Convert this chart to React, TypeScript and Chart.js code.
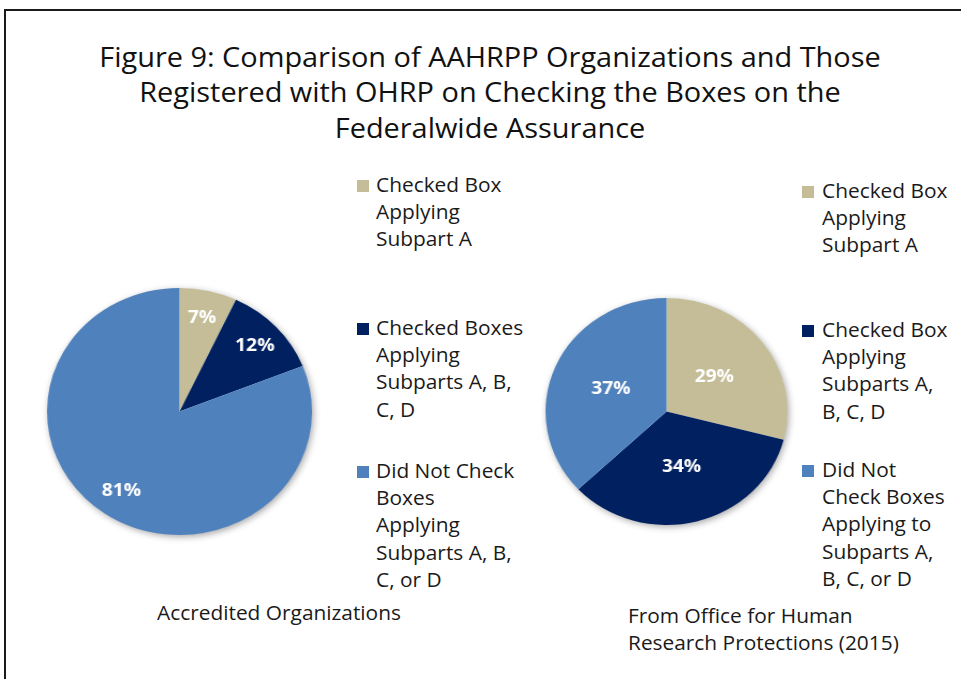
import React, { useEffect, useRef } from "react";
import { Chart, registerables } from "chart.js";

Chart.register(...registerables);

// ---------- DATA ----------
const titleLines = [
  "Figure 9: Comparison of AAHRPP Organizations and Those",
  "Registered with OHRP on Checking the Boxes on the",
  "Federalwide Assurance",
];

const categoriesLeft = [
  "Checked Box Applying Subpart A",
  "Checked Boxes Applying Subparts A, B, C, D",
  "Did Not Check Boxes Applying Subparts A, B, C, or D",
];
const legendLinesLeft = [
  ["Checked Box", "Applying", "Subpart A"],
  ["Checked Boxes", "Applying", "Subparts A, B,", "C, D"],
  ["Did Not Check", "Boxes", "Applying", "Subparts A, B,", "C, or D"],
];
const valuesLeft = [7, 12, 81];
const captionLeft = ["Accredited Organizations"];

const categoriesRight = [
  "Checked Box Applying Subpart A",
  "Checked Box Applying Subparts A, B, C, D",
  "Did Not Check Boxes Applying to Subparts A, B, C, or D",
];
const legendLinesRight = [
  ["Checked Box", "Applying", "Subpart A"],
  ["Checked Box", "Applying", "Subparts A,", "B, C, D"],
  ["Did Not", "Check Boxes", "Applying to", "Subparts A,", "B, C, or D"],
];
const valuesRight = [29, 34, 37];
const captionRight = ["From Office for Human", "Research Protections (2015)"];

const sliceColors = ["#C4BD97", "#002060", "#4F81BD"];

// ---------- STYLE ----------
const FONT = "'Open Sans', 'Noto Sans', sans-serif";
const TEXT = "#1a1a1a";
const STRETCH = 1.07;
const BODY_SIZE = 19.5;
const BODY_LH = 27.3;
const BODY_BASE = 21.2;

const shadowPlugin = {
  id: "pieShadow",
  beforeDatasetsDraw(chart: any) {
    const arc = chart.getDatasetMeta(0).data[0];
    if (!arc) return;
    const p = arc.getProps(["x", "y", "outerRadius"], true);
    const ctx = chart.ctx;
    ctx.save();
    ctx.shadowColor = "rgba(0,0,0,0.38)";
    ctx.shadowBlur = 7;
    ctx.shadowOffsetX = 1.5;
    ctx.shadowOffsetY = 2;
    ctx.beginPath();
    ctx.arc(p.x, p.y, p.outerRadius - 0.5, 0, Math.PI * 2);
    ctx.fillStyle = "#ffffff";
    ctx.fill();
    ctx.restore();
  },
};

const pctLabelPlugin = {
  id: "pctLabels",
  afterDatasetsDraw(chart: any, _args: any, opts: any) {
    const meta = chart.getDatasetMeta(0);
    const data = chart.data.datasets[0].data;
    const ctx = chart.ctx;
    ctx.save();
    ctx.fillStyle = "#ffffff";
    ctx.font = `bold 18px ${FONT}`;
    ctx.textAlign = "center";
    ctx.textBaseline = "middle";
    meta.data.forEach((arc: any, i: number) => {
      const p = arc.getProps(["x", "y", "startAngle", "endAngle", "outerRadius"], true);
      const mid = (p.startAngle + p.endAngle) / 2;
      const r = p.outerRadius * (opts.radiusFraction ?? 0.5);
      ctx.fillText(`${data[i]}%`, p.x + Math.cos(mid) * r, p.y + Math.sin(mid) * r);
    });
    ctx.restore();
  },
};

function PieCanvas(props: {
  labels: string[];
  values: number[];
  size: number;
  left: number;
  top: number;
  stretch: number;
  labelRadius: number;
}) {
  const ref = useRef<HTMLCanvasElement | null>(null);
  useEffect(() => {
    if (!ref.current) return;
    const chart = new Chart(ref.current, {
      type: "pie",
      data: {
        labels: props.labels,
        datasets: [
          {
            data: props.values,
            backgroundColor: sliceColors,
            borderWidth: 0,
          },
        ],
      },
      options: {
        responsive: false,
        maintainAspectRatio: false,
        animation: false,
        layout: { padding: 10 },
        plugins: {
          legend: { display: false },
          tooltip: { enabled: false },
          pctLabels: { radiusFraction: props.labelRadius },
        } as any,
      },
      plugins: [shadowPlugin, pctLabelPlugin],
    });
    return () => chart.destroy();
  }, []);
  return (
    <div
      style={{
        position: "absolute",
        left: props.left,
        top: props.top,
        width: props.size,
        height: props.size,
        transform: `scaleX(${props.stretch})`,
        transformOrigin: "50% 50%",
      }}
    >
      <canvas ref={ref} width={props.size} height={props.size} />
    </div>
  );
}

function TextBlock(props: { lines: string[]; left: number; top: number; lh?: number }) {
  return (
    <div
      style={{
        position: "absolute",
        left: props.left,
        top: props.top,
        fontFamily: FONT,
        fontSize: BODY_SIZE,
        lineHeight: `${props.lh ?? BODY_LH}px`,
        color: TEXT,
        whiteSpace: "nowrap",
        transform: `scaleX(${STRETCH})`,
        transformOrigin: "0 0",
      }}
    >
      {props.lines.map((l, j) => (
        <div key={j}>{l}</div>
      ))}
    </div>
  );
}

function Legend(props: {
  lines: string[][];
  markerX: number;
  textX: number;
  baselines: number[];
}) {
  return (
    <>
      {props.lines.map((item, i) => (
        <React.Fragment key={i}>
          <div
            style={{
              position: "absolute",
              left: props.markerX,
              top: props.baselines[i] - 12.5,
              width: 12,
              height: 12,
              background: sliceColors[i],
            }}
          />
          <TextBlock lines={item} left={props.textX} top={props.baselines[i] - BODY_BASE} />
        </React.Fragment>
      ))}
    </>
  );
}

export default function App() {
  return (
    <div
      style={{
        position: "absolute",
        left: 0,
        top: 0,
        width: 961,
        height: 679,
        background: "#ffffff",
        overflow: "hidden",
      }}
    >
      {/* frame */}
      <div style={{ position: "absolute", left: 4, top: 9, width: 957, height: 2, background: "#1a1a1a" }} />
      <div style={{ position: "absolute", left: 4, top: 9, width: 2, height: 670, background: "#1a1a1a" }} />

      {/* title */}
      <div
        style={{
          position: "absolute",
          left: 90,
          width: 800,
          top: 38.8,
          textAlign: "center",
          fontFamily: FONT,
          fontSize: 27,
          lineHeight: "35.5px",
          color: "#111",
          whiteSpace: "nowrap",
          transform: `scaleX(${STRETCH})`,
          transformOrigin: "50% 0",
        }}
      >
        {titleLines.map((l, i) => (
          <div key={i}>{l}</div>
        ))}
      </div>

      <PieCanvas
        labels={categoriesLeft}
        values={valuesLeft}
        size={267}
        left={179 - 133.5}
        top={411.5 - 133.5}
        stretch={1.073}
        labelRadius={0.78}
      />
      <PieCanvas
        labels={categoriesRight}
        values={valuesRight}
        size={247}
        left={666 - 123.5}
        top={411.5 - 123.5}
        stretch={1.066}
        labelRadius={0.5}
      />

      <Legend lines={legendLinesLeft} markerX={357} textX={376} baselines={[192, 335, 478]} />
      <Legend lines={legendLinesRight} markerX={802} textX={822} baselines={[198, 337, 477]} />

      <TextBlock lines={captionLeft} left={157} top={620 - BODY_BASE} />
      <TextBlock lines={captionRight} left={628} top={623 - BODY_BASE} lh={27} />
    </div>
  );
}
